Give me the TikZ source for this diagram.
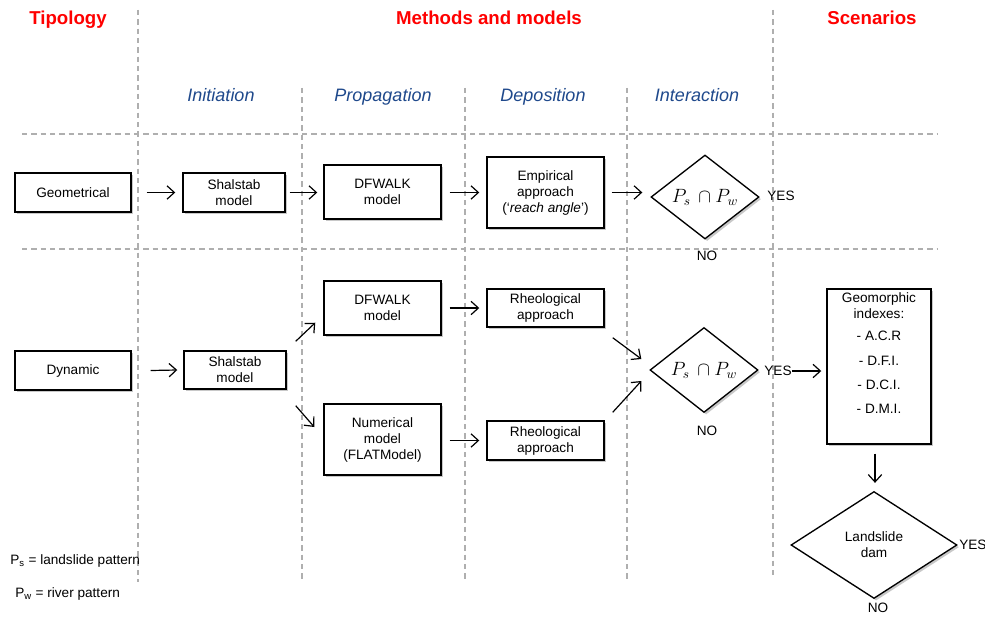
\documentclass[tikz,border=0pt]{standalone}
\usepackage{fontspec}
\setmainfont{Liberation Sans}
\usetikzlibrary{shapes.geometric,arrows.meta,calc,shadows}
\definecolor{hdred}{RGB}{255,0,0}
\definecolor{hdblue}{RGB}{31,73,140}
\definecolor{dashgray}{RGB}{175,175,175}
\begin{document}
\begin{tikzpicture}[x=0.75pt,y=-0.75pt,
  shad/.style={drop shadow={shadow xshift=1.6pt, shadow yshift=-1.6pt, opacity=0.3, fill=black!70}},
  box/.style={draw=black, line width=1.1pt, fill=white, align=center, inner sep=0pt,
    font=\fontsize{10.2}{12}\selectfont, shad},
  dia/.style={diamond, draw=black, line width=1pt, fill=white, inner sep=0pt, align=center,
    font=\fontsize{10.2}{12}\selectfont, shad},
  arr/.style={-{Straight Barb[length=5.5pt,width=10pt]}, line width=0.9pt},
  sep/.style={draw=dashgray, line width=0.8pt, dash pattern=on 4pt off 3pt},
  lbl/.style={font=\fontsize{10.2}{12}\selectfont, inner sep=0pt},
  hd/.style={font=\fontsize{14}{16}\selectfont\bfseries, text=hdred, inner sep=0pt, anchor=base},
  subhd/.style={font=\fontsize{13.5}{16}\selectfont\itshape, text=hdblue, inner sep=0pt, anchor=base}]
\fill[white] (0,0) rectangle (985,617);
\useasboundingbox (0,0) rectangle (985,617);

% separators
\draw[sep] (138,10) -- (138,582);
\draw[sep] (773,10) -- (773,578);
\draw[sep] (302,88) -- (302,582);
\draw[sep] (465,88) -- (465,582);
\draw[sep] (627,88) -- (627,582);
\draw[sep] (22,134) -- (938,134);
\draw[sep] (22,249) -- (938,249);

% headers
\node[hd] (h1) at (68,25) {Tipology};
\node[hd] (h2) at (489,25) {Methods and models};
\node[hd] (h3) at (872,25) {Scenarios};
\node[subhd] (s1) at (221,101) {Initiation};
\node[subhd] (s2) at (383,101) {Propagation};
\node[subhd] (s3) at (543,101) {Deposition};
\node[subhd] (s4) at (697,101) {Interaction};

% row 1
\node[box, minimum width=87pt, minimum height=29.25pt] (geo1) at (73,192.5) {Geometrical};
\node[box, minimum width=76.5pt, minimum height=29.25pt] (sh1) at (234,192.5) {Shalstab\\model};
\node[box, minimum width=87.75pt, minimum height=40.5pt] (dfw1) at (382.5,192) {DFWALK\\model};
\node[box, minimum width=87.75pt, minimum height=53.25pt] (emp) at (545.5,192.5) {Empirical\\approach\\(‘\textit{reach angle}’)};
\node[dia, minimum width=81pt, minimum height=63pt] (d1) at (705,197) {\fontsize{14}{16}\selectfont$P_{s}\,\cap P_{w}$};
\node[lbl] (yes1) at (781,196) {YES};
\node[lbl] (no1) at (707,256) {NO};

\draw[arr] ($(geo1.east)+(15,0)$) -- ($(sh1.west)+(-7,0)$);
\draw[arr] ($(sh1.east)+(4,0)$) -- ($(dfw1.west|-sh1.east)+(-6,0)$);
\draw[arr] ($(dfw1.east|-sh1.east)+(8,0)$) -- ($(emp.west|-sh1.east)+(-7,0)$);
\draw[arr] ($(emp.east|-sh1.east)+(7,0)$) -- ($(d1.west|-sh1.east)+(-8,0)$);

% row 2
\node[box, minimum width=87pt, minimum height=29.25pt] (dyn) at (73,370.5) {Dynamic};
\node[box, minimum width=76.5pt, minimum height=28.5pt] (sh2) at (235,370) {Shalstab\\model};
\node[box, minimum width=87.75pt, minimum height=40.5pt] (dfw2) at (382.5,308) {DFWALK\\model};
\node[box, minimum width=87.75pt, minimum height=53.25pt] (num) at (382.5,439.5) {Numerical\\model\\(FLATModel)};
\node[box, minimum width=87.75pt, minimum height=28.5pt] (rh1) at (545.5,308) {Rheological\\approach};
\node[box, minimum width=87.75pt, minimum height=29.25pt] (rh2) at (545.5,440.5) {Rheological\\approach};
\node[dia, minimum width=81pt, minimum height=63.75pt] (d2) at (704,370) {\fontsize{14}{16}\selectfont$P_{s}\,\cap P_{w}$};
\node[lbl] (yes2) at (778,371) {YES};
\node[lbl] (no2) at (707,431) {NO};
\node[box, minimum width=78pt, minimum height=116.25pt] (geo) at (879,366.5) {};
\node[lbl, anchor=north, align=center] (geotxt) at ($(geo.north)+(0,4)$)
  {Geomorphic\\indexes:\\[4.5pt]- A.C.R\\[7pt]- D.F.I.\\[6pt]- D.C.I.\\[6pt]- D.M.I.};
\node[dia, minimum width=124.5pt, minimum height=80.25pt] (d3) at (874,545) {Landslide\\dam};
\node[lbl, anchor=west] (yes3) at (959,545) {YES};
\node[lbl] (no3) at (878,608) {NO};

\draw[arr] ($(dyn.east)+(19,0)$) -- ($(sh2.west)+(-6,0)$);
\draw[arr] ($(sh2.north east)+(9,-9)$) -- ($(dfw2.south west)+(-8,-13)$);
\draw[arr] ($(sh2.south east)+(9,16)$) -- ($(num.west)+(-9,-12.5)$);
\draw[arr] ($(dfw2.east)+(8,0)$) -- ($(rh1.west)+(-7,0)$);
\draw[arr] ($(num.east|-rh2.west)+(8,0)$) -- ($(rh2.west)+(-7,0)$);
\draw[arr] ($(rh1.south east)+(8,10)$) -- ($(d2.west)+(-8,-11)$);
\draw[arr] ($(rh2.north east)+(8,-8)$) -- ($(d2.west)+(-8,11)$);
\draw[arr] (yes2.east) -- ($(geo.west|-yes2.east)+(-5,0)$);
\draw[arr] ($(geo.south)+(-4,9)$) -- ($(d3.north)+(1,-8)$);

% legend
\node[lbl, anchor=west] (leg1) at (10,561) {P\textsubscript{s} = landslide pattern};
\node[lbl, anchor=west] (leg2) at (15,594) {P\textsubscript{w} = river pattern};
\end{tikzpicture}
\end{document}
